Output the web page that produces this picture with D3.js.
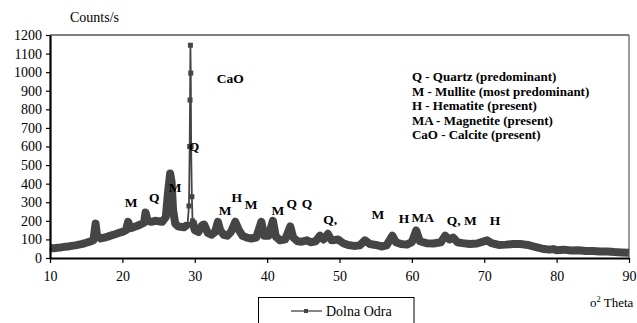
<!DOCTYPE html>
<html><head><meta charset="utf-8">
<script src="https://cdn.jsdelivr.net/npm/d3@7"></script>
<style>
body{margin:0;background:#fff;}
svg{display:block;font-family:"Liberation Serif","Times New Roman",serif;}
</style></head>
<body><svg id="c" width="637" height="323"></svg>
<script>
// ---- data ----
const twoTheta = [10,10.5,11,11.5,12,12.5,13,13.5,14,14.5,15,15.5,16,16.3,16.5,17,17.5,18,18.5,19,19.5,20,20.5,20.8,21.1,21.5,22,22.5,23,23.2,23.5,24,24.5,25,25.5,26,26.3,26.6,26.8,27,27.3,27.7,28,28.5,29,29.2,29.3,29.35,29.4,29.45,29.5,29.6,29.7,30,30.5,31,31.3,31.8,32.3,32.8,33.2,33.5,34,34.5,35,35.6,36.1,36.6,37.2,37.8,38.5,39.2,39.6,40.2,40.8,41.2,41.8,42.5,43.2,43.6,44.2,44.8,45.5,46,46.7,47.3,47.8,48.4,48.9,49.8,50.5,51.2,52,52.8,53.5,54.2,55,55.8,56.5,57.3,57.8,58.5,59.3,60,60.6,61.1,62,63,64,64.6,65.2,65.7,66.3,67,68,69,70.4,71,72,73,74,75,76,77,78,79,79.5,80,81,82,83,84,85,86,87,88,89,90];
const counts = [55,52,55,57,60,62,65,68,72,76,82,88,95,185,120,105,110,115,122,128,135,140,150,195,160,165,172,180,190,245,200,195,200,198,195,220,350,455,410,260,185,170,168,165,180,280,600,850,1145,995,600,330,200,150,140,175,180,135,125,140,195,150,125,120,140,195,150,120,110,105,110,195,120,120,200,115,95,100,170,110,90,88,95,85,90,120,100,130,95,100,80,70,65,68,95,75,70,62,68,120,85,75,72,85,148,90,80,78,85,120,100,110,85,80,75,78,95,80,70,72,75,75,70,60,50,45,48,42,45,40,42,38,38,35,35,32,30,28];
const xTicks = [10,20,30,40,50,60,70,80,90];
const yTicks = [0,100,200,300,400,500,600,700,800,900,1000,1100,1200];
const seriesName = "Dolna Odra";
const peakLabels = ["CaO","Q","M","Q","M","M","H","M","M","Q","Q","Q,","M","H","MA","Q, M","H"];
const peakLabelX = [34.9,29.9,21.2,24.4,27.3,34.2,35.8,37.8,41.5,43.4,45.5,48.7,55.3,58.9,61.5,66.9,71.5];
const peakLabelY = [968,603,301,328,382,258,328,291,258,296,296,210,237,215,221,205,205];
const phaseKey = ["Q - Quartz (predominant)","M - Mullite (most predominant)","H - Hematite (present)","MA - Magnetite (present)","CaO - Calcite (present)"];
const yTitle = "Counts/s";

// ---- drawing ----
const data = twoTheta.map((t,i)=>({x:t,y:counts[i]}));
const svg = d3.select("#c");
svg.append("rect").attr("width",637).attr("height",323).attr("fill","#fff");
const x = d3.scaleLinear().domain([10,90]).range([50,629]);
const y = d3.scaleLinear().domain([0,1200]).range([258,35]);
const col = "#454545";

// frame (top and right)
svg.append("line").attr("x1",x(10)).attr("x2",x(90)).attr("y1",y(1200)).attr("y2",y(1200)).attr("stroke","#000").attr("stroke-width",1);
svg.append("line").attr("x1",x(90)).attr("x2",x(90)).attr("y1",y(1200)).attr("y2",y(0)).attr("stroke","#666").attr("stroke-width",1.3);

// series: thick band for the noisy background, thin line for the sharp calcite spike
const spike = d => d.x > 29.15 && d.x < 29.65;
const line = d3.line().x(d=>x(d.x)).y(d=>y(d.y));
svg.append("path").datum(data).attr("d",line.defined(d=>!spike(d)))
  .attr("fill","none").attr("stroke",col).attr("stroke-width",8).attr("stroke-linejoin","round");
const spikeData = data.filter(d=>d.x>=29.0 && d.x<=29.8);
svg.append("path").datum(spikeData).attr("d",d3.line().x(d=>x(d.x)).y(d=>y(d.y)))
  .attr("fill","none").attr("stroke",col).attr("stroke-width",1.8);
svg.append("g").selectAll("rect").data(spikeData).join("rect")
  .attr("x",d=>x(d.x)-2.5).attr("y",d=>y(d.y)-2.5).attr("width",5).attr("height",5).attr("fill",col);

// axes
const ax = svg.append("g").attr("transform",`translate(0,${y(0)})`)
  .call(d3.axisBottom(x).tickValues(xTicks).tickSize(5).tickSizeOuter(0).tickPadding(8).tickFormat(d3.format("d")));
const ay = svg.append("g").attr("transform",`translate(${x(10)},0)`)
  .call(d3.axisLeft(y).tickValues(yTicks).tickSize(4).tickSizeOuter(0).tickPadding(4).tickFormat(d3.format("d")));
[ax,ay].forEach(g=>{
  g.select(".domain").attr("stroke","#000").attr("stroke-width",2.2);
  g.selectAll(".tick line").attr("stroke","#000").attr("stroke-width",1.2);
  g.selectAll(".tick text").attr("fill","#000").attr("font-size",14).attr("font-family","Liberation Serif, serif");
});

svg.append("text").attr("x",70).attr("y",22).attr("font-size",14).text(yTitle);
const xt = svg.append("text").attr("x",590).attr("y",307).attr("font-size",13);
xt.append("tspan").text("o");
xt.append("tspan").attr("font-size",8.5).attr("dy",-5).text("2");
xt.append("tspan").attr("dy",5).text(" Theta");

// peak labels
svg.append("g").selectAll("text").data(peakLabels).join("text")
  .attr("x",(d,i)=>x(peakLabelX[i])).attr("y",(d,i)=>y(peakLabelY[i])+5)
  .attr("text-anchor","middle").attr("font-weight","bold").attr("font-size",13.5).text(d=>d);

// phase key
svg.append("g").selectAll("text").data(phaseKey).join("text")
  .attr("x",x(60)).attr("y",(d,i)=>81+i*14.5)
  .attr("font-weight","bold").attr("font-size",13).text(d=>d);

// legend
svg.append("rect").attr("x",258.5).attr("y",297.5).attr("width",155.5).attr("height",40).attr("fill","none").attr("stroke","#000").attr("stroke-width",1);
svg.append("line").attr("x1",291).attr("x2",322).attr("y1",311).attr("y2",311).attr("stroke",col).attr("stroke-width",1.3);
svg.append("rect").attr("x",304).attr("y",309).attr("width",4).attr("height",4).attr("fill",col);
svg.append("text").attr("x",326).attr("y",316).attr("font-size",14).text(seriesName);
</script></body></html>
